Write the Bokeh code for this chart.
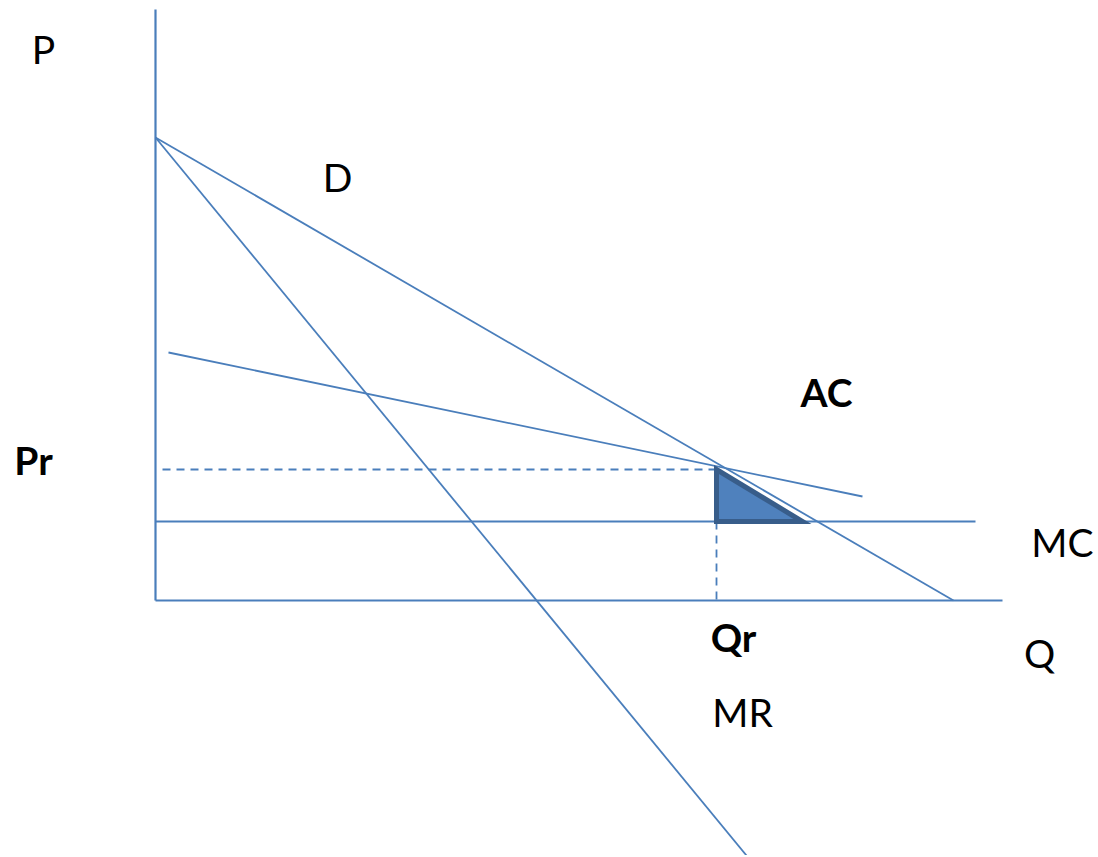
from bokeh.plotting import figure
from bokeh.models import Range1d
from bokeh.core.properties import value
from bokeh.embed import file_html
from bokeh.resources import INLINE

# Diagram data (economic units: quantity Q, price P)
axis_q = [0, 847]          # horizontal axis extent
axis_p = [0, 591]          # vertical axis extent
D_q = [0, 798]
D_p = [463, 0]
MR_q = [0, 591]
MR_p = [463, -255]
AC_q = [13, 707]
AC_p = [248, 104]
MC_q = [0, 820]
MC_p = [79, 79]
Pr = 131
Qr = 561
Pr_start = 7
tri_q = [561, 561, 647]
tri_p = [131, 79, 79]

labels = ["P", "D", "AC", "Pr", "MC", "Qr", "Q", "MR"]
label_q = [-112, 182, 671, -122, 907, 578, 884, 587]
label_p = [552, 424, 209, 141, 59, -36, -52, -111]
label_bold = [False, False, True, True, False, True, False, False]

BLUE = "#4A7EBB"

p = figure(width=1096, height=855, output_backend="svg", toolbar_location=None,
           x_range=Range1d(-155, 941), y_range=Range1d(-255, 600),
           min_border=0, outline_line_color=None)
p.axis.visible = False
p.grid.visible = False
p.background_fill_color = "white"
p.border_fill_color = "white"

# axes
p.line([0, 0], axis_p, line_color=BLUE, line_width=2.2)
p.line(axis_q, [0, 0], line_color=BLUE, line_width=2.2)

# curves
p.line(D_q, D_p, line_color=BLUE, line_width=1.8)
p.line(MR_q, MR_p, line_color=BLUE, line_width=1.8)
p.line(AC_q, AC_p, line_color=BLUE, line_width=1.8)
p.line(MC_q, MC_p, line_color=BLUE, line_width=2.0)

# dashed guides
p.line([Pr_start, Qr], [Pr, Pr], line_color=BLUE, line_width=1.8, line_dash="8 6")
p.line([Qr, Qr], [MC_p[0], 0], line_color=BLUE, line_width=1.8, line_dash="8 6")

# deadweight triangle
p.patch(tri_q, tri_p, fill_color="#4F81BD", line_color="#385D8A", line_width=5,
        line_join="miter")

for t, x, y, b in zip(labels, label_q, label_p, label_bold):
    p.text(x=[x], y=[y], text=[t], text_font=value("Lato"),
           text_font_size="39px", text_align="center", text_baseline="alphabetic",
           text_color="black", text_font_style="bold" if b else "normal")

open("out.html", "w").write(file_html(p, INLINE))
